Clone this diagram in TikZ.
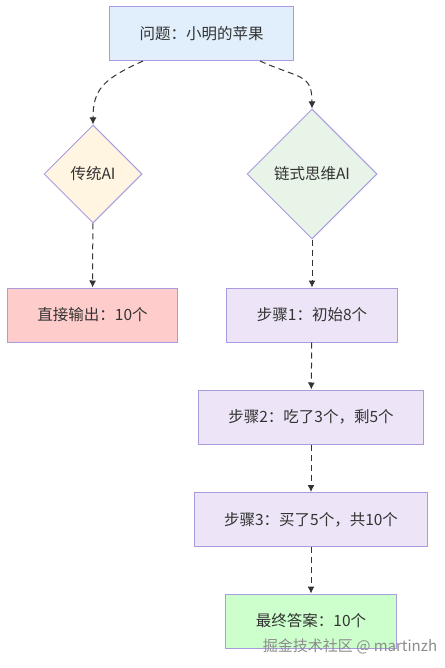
\documentclass[tikz,border=0pt]{standalone}
\usepackage{fontspec}
\newfontfamily\cjk{Noto Sans CJK SC}
\usetikzlibrary{shapes.geometric,arrows.meta}
\definecolor{edgelav}{HTML}{A99BE0}
\definecolor{qfill}{HTML}{E1EEFB}
\definecolor{tradfill}{HTML}{FFF5E1}
\definecolor{cotfill}{HTML}{E8F4E8}
\definecolor{redfill}{HTML}{FFCCCC}
\definecolor{stepfill}{HTML}{EDE5F7}
\definecolor{ansfill}{HTML}{CCFFCC}
\definecolor{txt}{HTML}{333333}

\begin{document}
\begin{tikzpicture}[x=1pt,y=-1pt,
        every node/.style={font=\cjk\fontsize{15.5}{18}\selectfont,text=txt},
        box/.style={rectangle,draw=edgelav,line width=1pt,minimum height=54pt,inner xsep=30pt},
        dia/.style={diamond,draw=edgelav,line width=1pt,aspect=1,inner sep=0pt},
        flow/.style={draw=txt,line width=1pt,dash pattern=on 6pt off 4pt,-{Latex[length=7pt,width=7pt]}}]
    \useasboundingbox (0,0) rectangle (444,668);

    \node[box,fill=qfill] (q) at (201.5,33.5) {问题：小明的苹果};

    \node[dia,fill=tradfill,minimum size=98pt] (trad) at (93,174) {传统AI};
    \node[dia,fill=cotfill,minimum size=130pt] (cot) at (312,174) {链式思维AI};

    \node[box,fill=redfill] (direct) at (92.5,315) {直接输出：10个};

    \node[box,fill=stepfill] (s1) at (312,315) {步骤1：初始8个};
    \node[box,fill=stepfill] (s2) at (311,417) {步骤2：吃了3个，剩5个};
    \node[box,fill=stepfill] (s3) at (311,519.5) {步骤3：买了5个，共10个};
    \node[box,fill=ansfill] (ans) at (311,621) {最终答案：10个};

    \draw[flow] ([xshift=34pt]q.south west) .. controls +(-40,18) and +(0,-35) .. (trad.north);
    \draw[flow] ([xshift=-34pt]q.south east) .. controls +(40,18) and +(0,-35) .. (cot.north);
    \draw[flow] (trad) -- (direct);
    \draw[flow] (cot) -- (s1);
    \draw[flow] (s1) -- (s2);
    \draw[flow] (s2) -- (s3);
    \draw[flow] (s3) -- (ans);

    \node[text=black!45,font=\cjk\fontsize{15}{17}\selectfont] (mark) at (350,646) {掘金技术社区 @ martinzh};
\end{tikzpicture}
\end{document}
